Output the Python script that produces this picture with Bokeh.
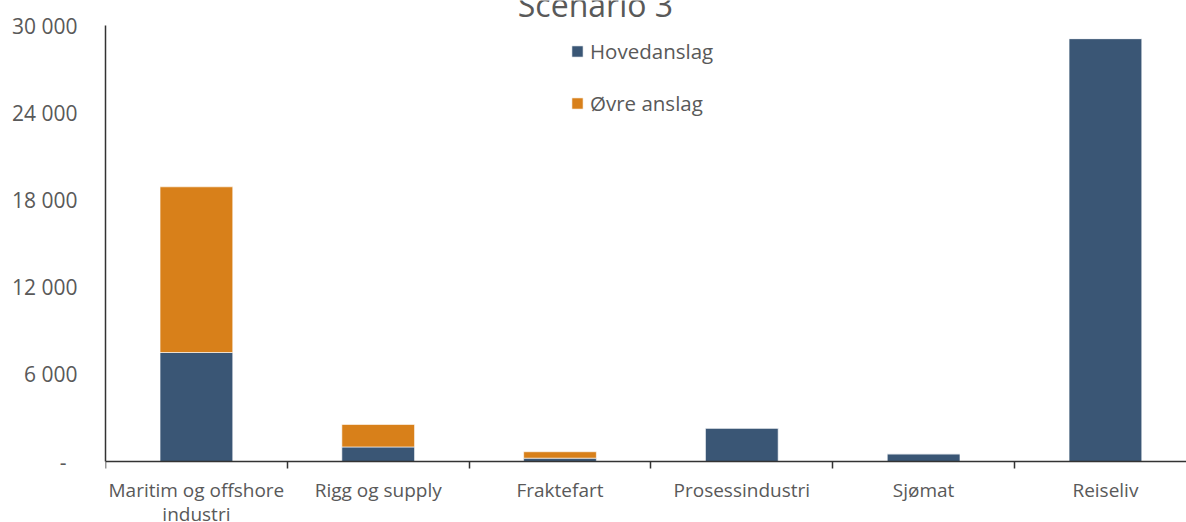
from bokeh.plotting import figure
from bokeh.models import Range1d, FixedTicker, Legend, LegendItem, Label, ColumnDataSource
from bokeh.embed import file_html
from bokeh.resources import INLINE

categories = ["Maritim og offshore\nindustri", "Rigg og supply", "Fraktefart",
              "Prosessindustri", "Sjømat", "Reiseliv"]
hovedanslag = [7500, 1000, 230, 2300, 530, 29100]
ovre_anslag = [11400, 1550, 440, 0, 0, 0]
y_ticks = [0, 6000, 12000, 18000, 24000, 30000]
y_labels = ["-\u00a0\u00a0", "6 000", "12 000", "18 000", "24 000", "30 000"]
series = ["Hovedanslag", "Øvre anslag"]
colors = ["#3A5675", "#D8801A"]
title = "Scenario 3"

FONT = "Open Sans"
TXT = "#595959"
Y_MAX = 30000
# frame fills the canvas height (522 px); 0 sits 61 px above the bottom, 30 000 25 px below the top
PX = 436 / Y_MAX
Y_BOTTOM = -61 / PX
Y_TOP = Y_MAX + 25 / PX

xpos = [i + 0.5 for i in range(len(categories))]
src = ColumnDataSource(dict(x=xpos, Hovedanslag=hovedanslag, **{"Øvre anslag": ovre_anslag}))

p = figure(width=1186, height=522, output_backend="svg", toolbar_location=None,
           x_range=Range1d(0, 5.946), y_range=Range1d(Y_BOTTOM, Y_TOP),
           min_border_left=105, min_border_top=0, min_border_right=0, min_border_bottom=0)
p.outline_line_color = None
p.xgrid.visible = False
p.ygrid.visible = False
p.background_fill_color = "white"

rs = p.vbar_stack(series, x="x", width=0.4, source=src, color=colors,
                  line_color="white", line_width=0.6)

# y axis
p.yaxis.bounds = (0, Y_MAX)
p.yaxis.ticker = FixedTicker(ticks=y_ticks)
p.yaxis.major_label_overrides = {t: l for t, l in zip(y_ticks, y_labels)}
p.yaxis.major_tick_out = 0
p.yaxis.major_tick_in = 0
p.yaxis.minor_tick_out = 0
p.yaxis.minor_tick_in = 0
p.yaxis.major_label_standoff = 28
p.yaxis.major_label_text_font = FONT
p.yaxis.major_label_text_font_size = "21px"
p.yaxis.major_label_text_color = TXT
p.yaxis.axis_line_color = "#333333"
p.yaxis.axis_line_width = 1.5

# x axis at value 0: labels at centers, ticks at category boundaries
p.xaxis.fixed_location = 0
p.xaxis.ticker = FixedTicker(ticks=xpos, minor_ticks=list(range(len(categories) + 1)))
p.xaxis.major_label_overrides = {x: c for x, c in zip(xpos, categories)}
p.xaxis.major_tick_out = 0
p.xaxis.major_tick_in = 0
p.xaxis.minor_tick_out = 7
p.xaxis.minor_tick_in = 0
p.xaxis.minor_tick_line_color = "#333333"
p.xaxis.minor_tick_line_width = 1.5
p.xaxis.major_label_standoff = 8
p.xaxis.major_label_text_font = FONT
p.xaxis.major_label_text_font_size = "19px"
p.xaxis.major_label_text_line_height = 0.95
p.xaxis.major_label_text_color = TXT
p.xaxis.axis_line_color = "#333333"
p.xaxis.axis_line_width = 1.5

# title (partly cut off at the top, as in the reference)
p.add_layout(Label(x=2.695, y=31445, text=title, text_align="center",
                   text_baseline="alphabetic", text_font=FONT, text_font_size="32px",
                   text_color=TXT))

legend = Legend(items=[LegendItem(label=s, renderers=[r]) for s, r in zip(series, rs)],
                location=(465, 405), orientation="vertical")
legend.border_line_color = None
legend.background_fill_alpha = 0
legend.padding = 0
legend.margin = 0
legend.glyph_width = 14
legend.glyph_height = 14
legend.label_standoff = 6
legend.spacing = 24
legend.label_text_font = FONT
legend.label_text_font_size = "20.5px"
legend.label_text_color = TXT
p.add_layout(legend, "center")

open("out.html", "w").write(file_html(p, INLINE))
